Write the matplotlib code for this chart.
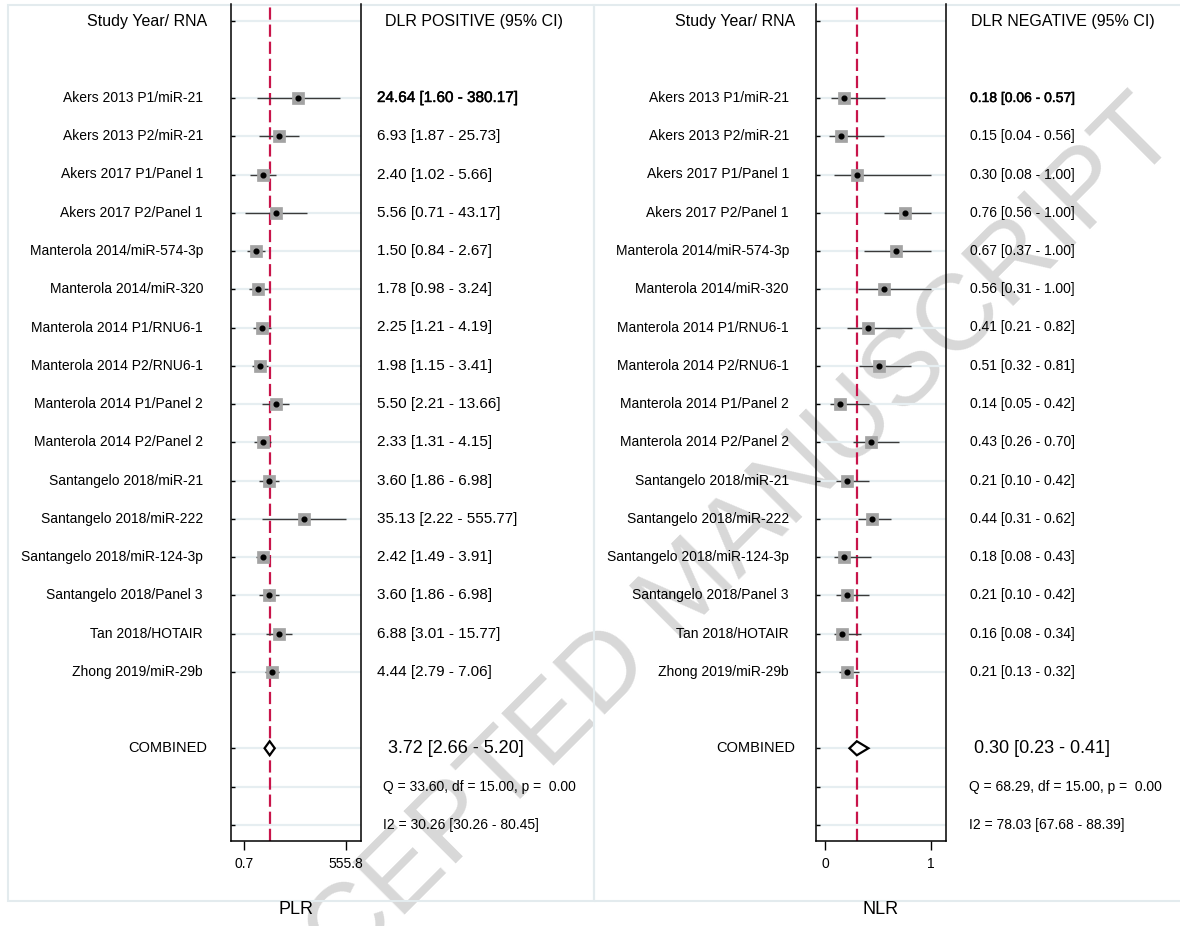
import numpy as np
import matplotlib
matplotlib.use('Agg')
import matplotlib.pyplot as plt
from matplotlib.patches import Rectangle, Polygon
from matplotlib.transforms import blended_transform_factory
import matplotlib.patheffects as pe

plt.rcParams['font.family'] = ['Liberation Sans', 'DejaVu Sans']

# ---------------- data ----------------
studies = [
    "Akers 2013 P1/miR-21", "Akers 2013 P2/miR-21", "Akers 2017 P1/Panel 1",
    "Akers 2017 P2/Panel 1", "Manterola 2014/miR-574-3p", "Manterola 2014/miR-320",
    "Manterola 2014 P1/RNU6-1", "Manterola 2014 P2/RNU6-1", "Manterola 2014 P1/Panel 2",
    "Manterola 2014 P2/Panel 2", "Santangelo 2018/miR-21", "Santangelo 2018/miR-222",
    "Santangelo 2018/miR-124-3p", "Santangelo 2018/Panel 3", "Tan 2018/HOTAIR",
    "Zhong 2019/miR-29b",
]
plr = [24.64, 6.93, 2.40, 5.56, 1.50, 1.78, 2.25, 1.98, 5.50, 2.33, 3.60, 35.13, 2.42, 3.60, 6.88, 4.44]
plr_lo = [1.60, 1.87, 1.02, 0.71, 0.84, 0.98, 1.21, 1.15, 2.21, 1.31, 1.86, 2.22, 1.49, 1.86, 3.01, 2.79]
plr_hi = [380.17, 25.73, 5.66, 43.17, 2.67, 3.24, 4.19, 3.41, 13.66, 4.15, 6.98, 555.77, 3.91, 6.98, 15.77, 7.06]
plr_pooled = [3.72, 2.66, 5.20]
plr_q = "Q = 33.60, df = 15.00, p =  0.00"
plr_i2 = "I2 = 30.26 [30.26 - 80.45]"
plr_ticks = [0.7, 555.8]
plr_ticklabels = ["0.7", "555.8"]

nlr = [0.18, 0.15, 0.30, 0.76, 0.67, 0.56, 0.41, 0.51, 0.14, 0.43, 0.21, 0.44, 0.18, 0.21, 0.16, 0.21]
nlr_lo = [0.06, 0.04, 0.08, 0.56, 0.37, 0.31, 0.21, 0.32, 0.05, 0.26, 0.10, 0.31, 0.08, 0.10, 0.08, 0.13]
nlr_hi = [0.57, 0.56, 1.00, 1.00, 1.00, 1.00, 0.82, 0.81, 0.42, 0.70, 0.42, 0.62, 0.43, 0.42, 0.34, 0.32]
nlr_pooled = [0.30, 0.23, 0.41]
nlr_q = "Q = 68.29, df = 15.00, p =  0.00"
nlr_i2 = "I2 = 78.03 [67.68 - 88.39]"
nlr_ticks = [0, 1]
nlr_ticklabels = ["0", "1"]

header_left = "Study Year/ RNA"
header_plr = "DLR POSITIVE (95% CI)"
header_nlr = "DLR NEGATIVE (95% CI)"
combined_label = "COMBINED"
watermark = "ACCEPTED MANUSCRIPT"

# ---------------- layout ----------------
W, H = 1180, 926
fig = plt.figure(figsize=(W / 100, H / 100), dpi=100)

ROW0_PX, ROW_PX = 98.0, 38.25
AX_TOP, AX_BOT = 4.0, 841.0
ylim = ((AX_BOT - ROW0_PX) / ROW_PX, (AX_TOP - ROW0_PX) / ROW_PX)

FRAME_C = '#e3ebee'
GRID_C = '#e6eef1'
RED = '#c8144a'
SQ_C = '#a3a3a3'
CI_C = '#3a3a3a'

# watermark
fig.text(690 / W, 1 - 590 / H, watermark, rotation=45, fontsize=78,
         color='#d8d8d8', ha='center', va='center', rotation_mode='anchor', zorder=-5)


def panel(x0, x1, scale, xlim, vals, lo, hi, pooled, qtxt, i2txt, ticks, ticklabels,
          header_right, label_right, val_x, val_fs, head_x, comb_x, stat_x, frame, xlabel,
          header_right_text):
    ax = fig.add_axes([x0 / W, 1 - AX_BOT / H, (x1 - x0) / W, (AX_BOT - AX_TOP) / H])
    ax.set_facecolor('none')
    ax.set_xscale(scale)
    ax.set_xlim(*xlim)
    ax.set_ylim(*ylim)
    n = len(vals)
    rows = list(range(n))
    comb_row, q_row, i2_row, head_row = n + 1, n + 2, n + 3, -2
    grid_rows = [head_row] + rows + [comb_row, q_row, i2_row]
    for r in grid_rows:
        ax.axhline(r, color=GRID_C, lw=1.6, zorder=0)
    ax.axvline(pooled[0], color=RED, lw=1.6, ls=(0, (5.5, 2.2)), zorder=2)
    for r, v, l, h in zip(rows, vals, lo, hi):
        ax.plot([l, h], [r, r], color=CI_C, lw=1.0, zorder=3, solid_capstyle='butt')
        ax.plot([v], [r], marker='s', ms=8.4, mfc=SQ_C, mec=SQ_C, mew=0.5, zorder=4)
        ax.plot([v], [r], marker='o', ms=3.4, mfc='black', mec='black', zorder=5)
    p, pl, ph = pooled
    hh = 7.0 / ROW_PX
    ax.add_patch(Polygon([(pl, comb_row), (p, comb_row - hh), (ph, comb_row), (p, comb_row + hh)],
                         closed=True, fc='white', ec='black', lw=1.6, zorder=6, joinstyle='miter'))

    ax.set_yticks(grid_rows)
    ax.tick_params(axis='y', direction='in', length=3, width=1, left=True, labelleft=False)
    ax.set_xticks(ticks)
    ax.set_xticklabels(ticklabels)
    ax.xaxis.set_minor_locator(matplotlib.ticker.NullLocator())
    ax.tick_params(axis='x', direction='out', length=6.5, width=1, labelsize=10, pad=5)
    for s in ['left', 'right', 'bottom']:
        ax.spines[s].set_linewidth(1.1)
        ax.spines[s].set_color('black')
    ax.spines['top'].set_visible(False)

    tr = blended_transform_factory(fig.transFigure, ax.transData)
    ax.text(header_right / W, head_row, header_left, transform=tr, ha='right', va='center',
            fontsize=11.5, clip_on=False)
    ax.text(head_x / W, head_row, header_right_text, transform=tr,
            ha='left', va='center', fontsize=11.5, clip_on=False)
    for r, name, v, l, h in zip(rows, studies, vals, lo, hi):
        ax.text(label_right / W, r, name, transform=tr, ha='right', va='center',
                fontsize=10, clip_on=False)
        t = ax.text(val_x / W, r, f"{v:.2f} [{l:.2f} - {h:.2f}]", transform=tr, ha='left',
                    va='center', fontsize=val_fs, clip_on=False)
        if r == 0:
            t.set_path_effects([pe.withStroke(linewidth=0.35, foreground='black')])
    ax.text(header_right / W, comb_row, combined_label, transform=tr, ha='right', va='center',
            fontsize=10.5, clip_on=False)
    ax.text(comb_x / W, comb_row, f"{p:.2f} [{pl:.2f} - {ph:.2f}]", transform=tr, ha='left',
            va='center', fontsize=13, clip_on=False)
    ax.text(stat_x / W, q_row, qtxt, transform=tr, ha='left', va='center', fontsize=10,
            clip_on=False)
    ax.text(stat_x / W, i2_row, i2txt, transform=tr, ha='left', va='center', fontsize=10,
            clip_on=False)
    fig.text(((x0 + x1) / 2) / W, 1 - 910 / H, xlabel, ha='center', va='center', fontsize=13)
    fx0, fx1 = frame
    fig.add_artist(Rectangle((fx0 / W, 1 - 901 / H), (fx1 - fx0) / W, (901 - 5) / H,
                             transform=fig.transFigure, fill=False, ec=FRAME_C, lw=1.5,
                             zorder=-4))
    return ax


# PLR (log scale): 0.7 at px 244.3, 555.8 at px 345.7
panel(231, 360.7, 'log', (0.2917, 1493.0), plr, plr_lo, plr_hi, plr_pooled, plr_q, plr_i2,
      plr_ticks, plr_ticklabels, header_right=207, label_right=203, val_x=377, val_fs=11,
      head_x=385, comb_x=388, stat_x=383, frame=(8, 594), xlabel='PLR',
      header_right_text=header_plr)

panel(816, 946, 'linear', (-0.087, 1.146), nlr, nlr_lo, nlr_hi, nlr_pooled, nlr_q, nlr_i2,
      nlr_ticks, nlr_ticklabels, header_right=795, label_right=789, val_x=970, val_fs=10,
      head_x=971, comb_x=974, stat_x=969, frame=(594, 1200), xlabel='NLR',
      header_right_text=header_nlr)

fig.savefig('out.png', dpi=100)
